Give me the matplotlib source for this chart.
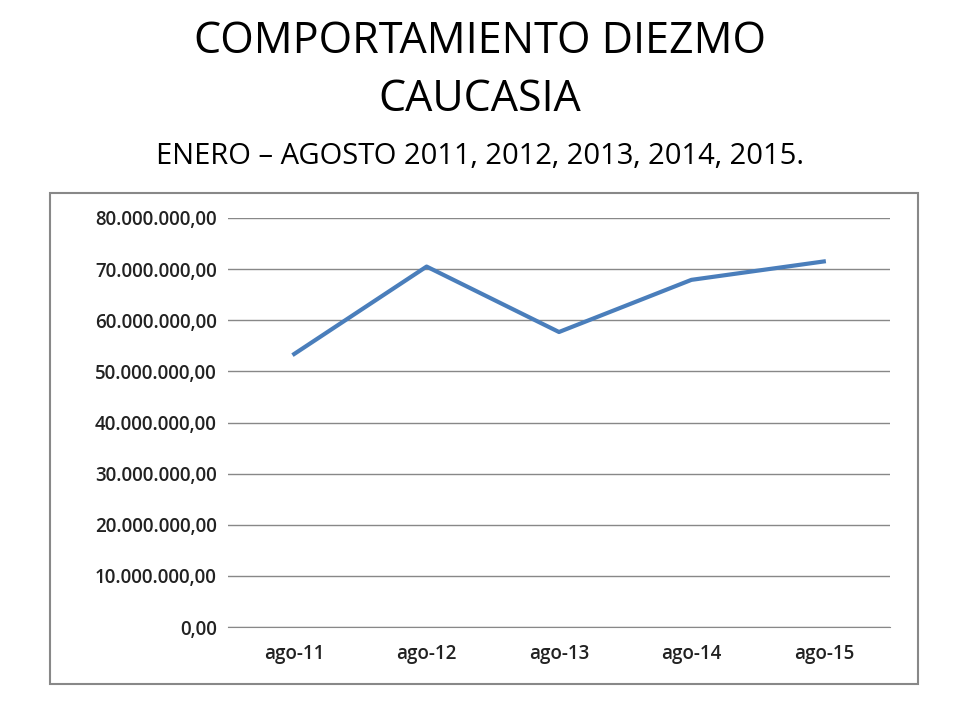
import matplotlib
matplotlib.use("Agg")
import matplotlib.pyplot as plt
from matplotlib.patches import Rectangle
from matplotlib.ticker import FuncFormatter

categories = ["ago-11", "ago-12", "ago-13", "ago-14", "ago-15"]
values = [53400000, 70500000, 57700000, 67900000, 71500000]

plt.rcParams["font.family"] = "Open Sans"
fig = plt.figure(figsize=(9.6, 7.2), dpi=100)
W, H = 960, 720
fig.text(0.5, 1 - 42/H, "COMPORTAMIENTO DIEZMO", ha="center", va="center", fontsize=31)
fig.text(0.5, 1 - 100/H, "CAUCASIA", ha="center", va="center", fontsize=31)
fig.text(0.5, 1 - 156/H, "ENERO – AGOSTO 2011, 2012, 2013, 2014, 2015.", ha="center", va="center", fontsize=21)

fig.patches.append(Rectangle((50/W, 1 - 684/H), 868/W, 491/H, transform=fig.transFigure,
                             fill=False, edgecolor="#888888", linewidth=1.5))

ax = fig.add_axes([228/W, 1 - 627/H, (890-228)/W, (627-218)/H])
x = range(len(categories))
ax.plot(x, values, color="#4a7ebb", linewidth=3)
ax.set_xlim(-0.5, len(categories) - 0.5)
ax.set_ylim(0, 80000000)
ax.set_yticks(range(0, 80000001, 10000000))
ax.yaxis.set_major_formatter(FuncFormatter(lambda v, p: f"{int(v):,}".replace(",", ".") + ",00"))
ax.set_xticks(list(x))
ax.set_xticklabels(categories)
ax.grid(axis="y", color="#888888", linewidth=1)
ax.set_axisbelow(True)
for s in ["top", "right", "left"]:
    ax.spines[s].set_visible(False)
ax.spines["bottom"].set_color("#888888")
ax.tick_params(length=0, labelsize=13.5, pad=8)
ax.tick_params(axis="x", pad=12)
for lab in ax.get_xticklabels() + ax.get_yticklabels():
    lab.set_fontweight("semibold")
    lab.set_color("#222222")
fig.savefig("out.png", dpi=100)
